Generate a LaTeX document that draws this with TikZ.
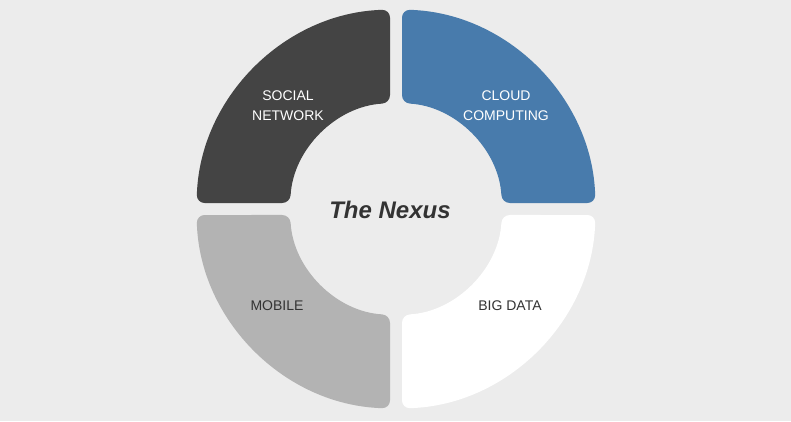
\documentclass[tikz,border=0pt]{standalone}
\usepackage{fontspec}
\setmainfont{Liberation Sans}
\definecolor{bg}{HTML}{ECECEC}
\definecolor{segdark}{HTML}{444444}
\definecolor{segblue}{HTML}{487BAC}
\definecolor{seggray}{HTML}{B3B3B3}
\definecolor{txtdark}{HTML}{333333}
\begin{document}
\begin{tikzpicture}[x=1pt,y=1pt,
  seg/.style={rounded corners=8pt},
  lbl/.style={align=center,font=\fontsize{14}{20}\selectfont}]
\fill[bg] (0,0) rectangle (791,421);
\useasboundingbox (0,0) rectangle (791,421);
\def\R{199.5}\def\r{106}
\pgfmathsetmacro{\ao}{asin(6/\R)}
\pgfmathsetmacro{\ai}{asin(6/\r)}
\begin{scope}[shift={(396,212)}]
% top-left
\fill[segdark,seg] (90+\ao:\R) arc[start angle=90+\ao,end angle=180-\ao,radius=\R]
  -- (180-\ai:\r) arc[start angle=180-\ai,end angle=90+\ai,radius=\r] -- cycle;
% top-right
\fill[segblue,seg] (\ao:\R) arc[start angle=\ao,end angle=90-\ao,radius=\R]
  -- (90-\ai:\r) arc[start angle=90-\ai,end angle=\ai,radius=\r] -- cycle;
% bottom-left
\fill[seggray,seg] (180+\ao:\R) arc[start angle=180+\ao,end angle=270-\ao,radius=\R]
  -- (270-\ai:\r) arc[start angle=270-\ai,end angle=180+\ai,radius=\r] -- cycle;
% bottom-right
\fill[white,seg] (270+\ao:\R) arc[start angle=270+\ao,end angle=360-\ao,radius=\R]
  -- (360-\ai:\r) arc[start angle=360-\ai,end angle=270+\ai,radius=\r] -- cycle;
\end{scope}
\node[lbl,text=white] (social) at (288,315) {SOCIAL\\NETWORK};
\node[lbl,text=white] (cloud) at (506,315) {CLOUD\\COMPUTING};
\node[lbl,text=txtdark] (mobile) at (277,115) {MOBILE};
\node[lbl,text=txtdark] (bigdata) at (510,115) {BIG DATA};
\node[text=txtdark,font=\fontsize{24}{27}\selectfont\bfseries\itshape] (nexus) at (390,211) {The Nexus};
\end{tikzpicture}
\end{document}
